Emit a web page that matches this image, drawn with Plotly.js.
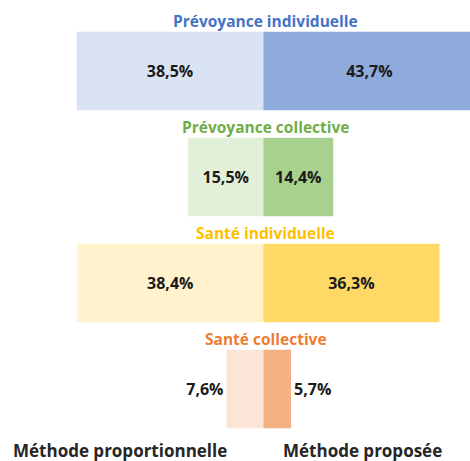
<!DOCTYPE html>
<html>
<head>
<meta charset="utf-8">
<script src="https://cdn.plot.ly/plotly-3.0.1.min.js"></script>
<style>
  html, body { margin: 0; padding: 0; background: #fff; }
  #chart { width: 470px; height: 461px; }
</style>
</head>
<body>
<div id="chart"></div>
<script>
const categories = ['Prévoyance individuelle', 'Prévoyance collective', 'Santé individuelle', 'Santé collective'];
const proportionnelle = [38.5, 15.5, 38.4, 7.6];
const proposee = [43.7, 14.4, 36.3, 5.7];
const seriesNames = ['Méthode proportionnelle', 'Méthode proposée'];

const titleColors = ['#4472C4', '#70AD47', '#FFC000', '#ED7D31'];
const lightColors = ['#DAE3F3', '#E2F0D9', '#FFF2CC', '#FBE5D6'];
const darkColors = ['#8FAADC', '#A9D18E', '#FFD966', '#F4B183'];

const fmt = v => v.toFixed(1).replace('.', ',') + '%';
const textPos = ['inside', 'inside', 'inside', 'outside'];
const labelFont = { family: 'Open Sans, sans-serif', size: 16, color: '#1a1a1a', weight: 'bold' };

const traces = [
  {
    type: 'bar', orientation: 'h', name: seriesNames[0],
    y: categories, x: proportionnelle.map(v => -v),
    text: proportionnelle.map(fmt), textposition: textPos,
    insidetextanchor: 'middle', textangle: 0, constraintext: 'none',
    textfont: labelFont, insidetextfont: labelFont, outsidetextfont: labelFont,
    marker: { color: lightColors }, width: 0.74, cliponaxis: true,
    hoverinfo: 'none'
  },
  {
    type: 'bar', orientation: 'h', name: seriesNames[1],
    y: categories, x: proposee,
    text: proposee.map(fmt), textposition: textPos,
    insidetextanchor: 'middle', textangle: 0, constraintext: 'none',
    textfont: labelFont, insidetextfont: labelFont, outsidetextfont: labelFont,
    marker: { color: darkColors }, width: 0.74, cliponaxis: true,
    hoverinfo: 'none'
  }
];

const annotations = categories.map((c, i) => ({
  xref: 'x', yref: 'y', x: 0.5, y: c,
  text: '<b>' + c + '</b>', showarrow: false,
  yanchor: 'bottom', yshift: 37,
  font: { family: 'Open Sans, sans-serif', size: 15.5, color: titleColors[i] }
}));

annotations.push(
  { xref: 'paper', yref: 'paper', x: 11 / 470, y: 0, xanchor: 'left', yanchor: 'middle', yshift: -8,
    text: '<b>' + seriesNames[0] + '</b>', showarrow: false,
    font: { family: 'Open Sans, sans-serif', size: 17, color: '#262626' } },
  { xref: 'paper', yref: 'paper', x: 281 / 470, y: 0, xanchor: 'left', yanchor: 'middle', yshift: -8,
    text: '<b>' + seriesNames[1] + '</b>', showarrow: false,
    font: { family: 'Open Sans, sans-serif', size: 17, color: '#262626' } }
);

Plotly.newPlot('chart', traces, {
  width: 470, height: 461,
  margin: { t: 18, r: 0, b: 19, l: 0 },
  barmode: 'relative',
  showlegend: false,
  xaxis: { range: [-54.3, 42.6], visible: false, fixedrange: true },
  yaxis: { range: [3.5, -0.5], visible: false, fixedrange: true },
  annotations: annotations,
  paper_bgcolor: '#fff',
  plot_bgcolor: '#fff'
}, { displayModeBar: false, staticPlot: true });
</script>
</body>
</html>
